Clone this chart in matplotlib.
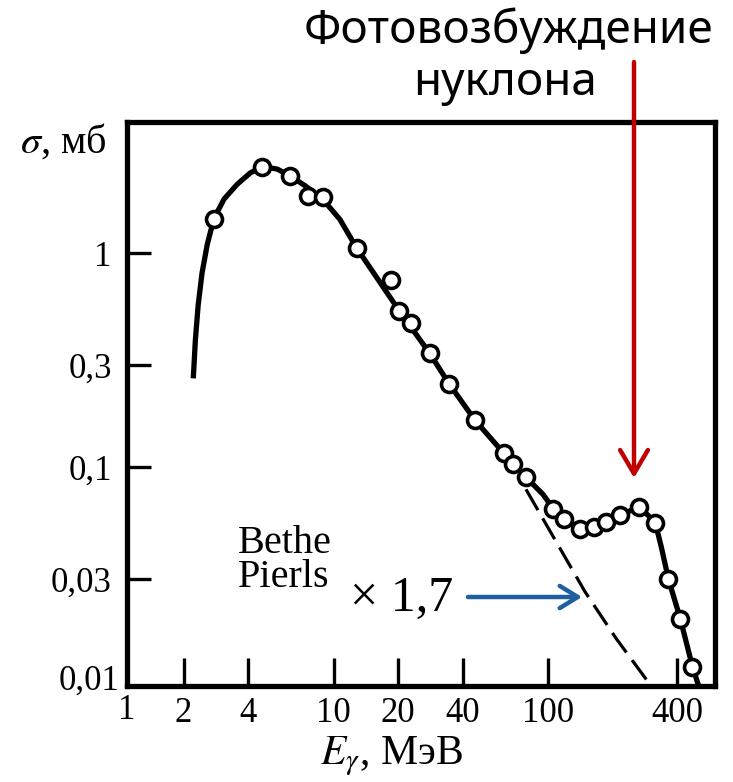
import matplotlib
matplotlib.use("Agg")
import matplotlib.pyplot as plt

# measured points (open circles)
energy_pts = [2.77, 4.66, 6.30, 7.64, 8.89, 12.8, 18.5, 20.3, 22.9, 28.1, 34.5, 45.6, 62.3,
              68.6, 78.9, 105.5, 119, 141, 164, 187, 217, 266, 316, 364, 414, 471]
sigma_pts = [1.45, 2.54, 2.29, 1.84, 1.82, 1.06, 0.750, 0.536, 0.471, 0.340, 0.246, 0.166, 0.116,
             0.103, 0.0897, 0.0641, 0.0575, 0.0516, 0.0527, 0.0557, 0.0595, 0.0655, 0.0551,
             0.0300, 0.0195, 0.0117]

# solid curve
curve_e = [2.22, 2.27, 2.34, 2.44, 2.58, 2.77, 3.09, 3.56, 4.09, 4.66, 5.47, 6.30, 7.40, 8.89,
           10.7, 12.8, 20.3, 28.1, 34.5, 45.6, 62.3, 78.9, 94.8, 105.5, 119, 141, 164, 187,
           217, 266, 316, 337, 364, 414, 471, 502]
curve_s = [0.26, 0.392, 0.573, 0.81, 1.10, 1.45, 1.79, 2.10, 2.37, 2.54, 2.47, 2.29, 2.06, 1.79,
           1.44, 1.06, 0.536, 0.340, 0.246, 0.166, 0.116, 0.0897, 0.0746, 0.0641, 0.0575, 0.0516,
           0.0520, 0.0557, 0.0595, 0.0655, 0.0551, 0.0425, 0.0300, 0.0195, 0.0117, 0.0096]

# Bethe-Peierls x 1.7 (dashed)
bp_e = [78.9, 109, 149, 208, 300]
bp_s = [0.0788, 0.0449, 0.0261, 0.0158, 0.0096]

xticks = [2, 4, 10, 20, 40, 100, 400]
xtick_labels = ["2", "4", "10", "20", "40", "100", "400"]
yticks = [0.03, 0.1, 0.3, 1]
ytick_labels = ["0,03", "0,1", "0,3", "1"]

plt.rcParams["font.family"] = ["Liberation Serif", "DejaVu Serif"]
plt.rcParams["mathtext.fontset"] = "stix"

W, H = 733, 782
fig = plt.figure(figsize=(W / 100, H / 100), dpi=100)
ax = fig.add_axes([127 / W, 1 - 686 / H, (715 - 127) / W, (686 - 122) / H])
ax.set_xscale("log")
ax.set_yscale("log")
ax.set_xlim(1.09, 600)
ax.set_ylim(0.0095, 4.1)

ax.plot(curve_e, curve_s, color="black", lw=3.8, solid_capstyle="butt", zorder=3)
ax.plot(bp_e, bp_s, color="black", lw=2.3, dashes=(7.5, 3), zorder=2)
ax.plot(energy_pts, sigma_pts, "o", ms=11.5, mfc="white", mec="black", mew=2.6, zorder=4)

ax.set_xticks(xticks)
ax.set_xticklabels(xtick_labels)
ax.set_yticks(yticks)
ax.set_yticklabels(ytick_labels)
ax.minorticks_off()
ax.tick_params(axis="x", direction="in", length=20, width=2.4, labelsize=25, pad=8)
ax.tick_params(axis="y", direction="in", length=17, width=2.4, labelsize=25, pad=11)
# corner labels: "1" on x and "0,01" on y sit at the axes corner
ax.text(0, -8 / 564, "1", transform=ax.transAxes, ha="center", va="top", fontsize=25)
ax.text(-8 / 588, 5 / 564, "0,01", transform=ax.transAxes, ha="right", va="center", fontsize=25)
for s in ax.spines.values():
    s.set_linewidth(3.8)

fig.text(20 / W, 1 - 142 / H, r"$\sigma$, мб", fontsize=29, ha="left", va="center")
fig.text(391 / W, 1 - 764 / H, r"$E_\gamma$, МэВ", fontsize=30, ha="center", va="baseline")

fig.text(509 / W, 1 - 43 / H, "Фотовозбуждение", fontsize=33, ha="center",
         va="baseline", family=["Noto Sans", "DejaVu Sans"])
fig.text(505 / W, 1 - 95 / H, "нуклона", fontsize=33, ha="center",
         va="baseline", family=["Noto Sans", "DejaVu Sans"])
ax.annotate("", xy=(634 / W, 1 - 478 / H), xytext=(634 / W, 1 - 62 / H),
            xycoords="figure fraction", textcoords="figure fraction",
            arrowprops=dict(arrowstyle="->,head_length=17,head_width=10", color="#c00000",
                            lw=3.2, shrinkA=0, shrinkB=0, mutation_scale=1),
            annotation_clip=False)

fig.text(238 / W, 1 - 587 / H, "Bethe\nPierls", fontsize=29, ha="left", va="baseline",
         linespacing=0.9)
fig.text(350 / W, 1 - 611 / H, "× 1,7", fontsize=36, ha="left", va="baseline")
ax.annotate("", xy=(582 / W, 1 - 597 / H), xytext=(468 / W, 1 - 597 / H),
            xycoords="figure fraction", textcoords="figure fraction",
            arrowprops=dict(arrowstyle="->,head_length=13,head_width=8", color="#1f5fa0",
                            lw=3.2, shrinkA=0, shrinkB=0, mutation_scale=1),
            annotation_clip=False)

fig.savefig("out.png", dpi=100)
